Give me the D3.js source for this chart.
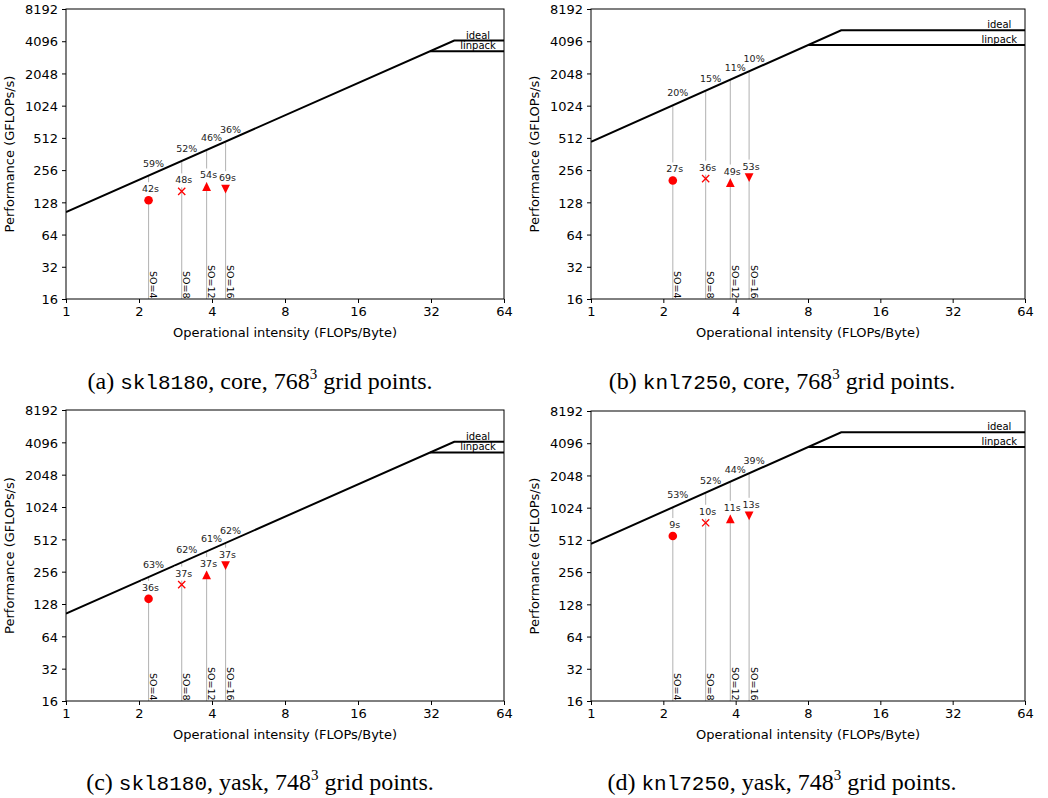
<!DOCTYPE html>
<html>
<head>
<meta charset="utf-8">
<script src="https://cdn.jsdelivr.net/npm/d3@7.9.0/dist/d3.min.js"></script>
<style>
  body { margin: 0; background: #fff; }
  svg { display: block; }
  .tick text { font-family: "DejaVu Sans", sans-serif; font-size: 13px; fill: #000; }
  .tick line { stroke: #000; }
</style>
</head>
<body>
<svg id="chart" width="1048" height="798"></svg>
<script>
// shared x positions of the four stencil orders
const intensity = [2.19, 3.0, 3.8, 4.55];
const soLabels = ["SO=4", "SO=8", "SO=12", "SO=16"];
const markerKinds = ["circle", "cross", "triUp", "triDown"];
const xTicks = [1, 2, 4, 8, 16, 32, 64];
const yTicks = [16, 32, 64, 128, 256, 512, 1024, 2048, 4096, 8192];

// per panel
const panelIds = ["a", "b", "c", "d"];
const machines = ["skl8180", "knl7250", "skl8180", "knl7250"];
const codes = ["core", "core", "yask", "yask"];
const gridSizes = ["768", "768", "748", "748"];
const bandwidth = [104, 471, 104, 471];
const peakIdeal = [4150, 5180, 4150, 5180];
const peakLinpack = [3300, 3780, 3300, 3780];

const perfA = [134, 162, 180, 170];
const perfB = [205, 213, 196, 218];
const perfC = [143, 194, 239, 291];
const perfD = [556, 740, 805, 860];

const pctA = ["59%", "52%", "46%", "36%"];
const pctB = ["20%", "15%", "11%", "10%"];
const pctC = ["63%", "62%", "61%", "62%"];
const pctD = ["53%", "52%", "44%", "39%"];

const timeA = ["42s", "48s", "54s", "69s"];
const timeB = ["27s", "36s", "49s", "53s"];
const timeC = ["36s", "37s", "37s", "37s"];
const timeD = ["9s", "10s", "11s", "13s"];

const perfs = [perfA, perfB, perfC, perfD];
const pcts = [pctA, pctB, pctC, pctD];
const times = [timeA, timeB, timeC, timeD];

// plot boxes (left, right, top, bottom) and caption centres
const boxes = [
  [66, 504, 9, 299],
  [591, 1025, 9, 299],
  [66, 504, 410, 701],
  [591, 1025, 411, 701]
];
const captionPos = [[260, 389], [782, 389], [260, 790], [782, 790]];

const svg = d3.select("#chart");
const annFont = "DejaVu Sans, sans-serif";

function markerPath(kind, a) {
  if (kind === "triUp") return `M0,${-a}L${a},${a}L${-a},${a}Z`;
  if (kind === "triDown") return `M0,${a}L${a},${-a}L${-a},${-a}Z`;
  if (kind === "cross") return `M${-a},${-a}L${a},${a}M${-a},${a}L${a},${-a}`;
  return null;
}

panelIds.forEach((id, p) => {
  const [L, R, T, B] = boxes[p];
  const x = d3.scaleLog().base(2).domain([1, 64]).range([L, R]);
  const y = d3.scaleLog().base(2).domain([16, 8192]).range([B, T]);
  const g = svg.append("g");
  const bw = bandwidth[p];

  g.append("clipPath").attr("id", "clip" + id)
    .append("rect").attr("x", L).attr("y", T).attr("width", R - L).attr("height", B - T);

  const plot = g.append("g").attr("clip-path", `url(#clip${id})`);

  // gray drop lines from the bottom up to the roof
  intensity.forEach((oi) => {
    plot.append("line")
      .attr("x1", x(oi)).attr("x2", x(oi))
      .attr("y1", y(16)).attr("y2", y(bw * oi))
      .attr("stroke", "#b8b8b8").attr("stroke-width", 1.1);
  });

  // rooflines
  const line = d3.line().x((d) => x(d[0])).y((d) => y(d[1]));
  const ideal = [[1, bw], [peakIdeal[p] / bw, peakIdeal[p]], [64, peakIdeal[p]]];
  const linpack = [[peakLinpack[p] / bw, peakLinpack[p]], [64, peakLinpack[p]]];
  [ideal, linpack].forEach((pts) => {
    plot.append("path").attr("d", line(pts))
      .attr("fill", "none").attr("stroke", "#000").attr("stroke-width", 2);
  });

  g.append("text").attr("x", x(50)).attr("y", y(peakIdeal[p]) - 2)
    .attr("text-anchor", "middle").attr("font-family", annFont).attr("font-size", 10)
    .text("ideal");
  g.append("text").attr("x", x(50)).attr("y", y(peakLinpack[p]) - 2)
    .attr("text-anchor", "middle").attr("font-family", annFont).attr("font-size", 10)
    .text("linpack");

  // SO labels
  intensity.forEach((oi, i) => {
    g.append("text")
      .attr("transform", `translate(${x(oi) + 1.5},${y(16) - 0.5}) rotate(90)`)
      .attr("text-anchor", "end").attr("font-family", annFont).attr("font-size", 9.5)
      .text(soLabels[i]);
  });

  // percentage of roof
  intensity.forEach((oi, i) => {
    g.append("text").attr("x", x(oi) + 5).attr("y", y(bw * oi) - 9)
      .attr("text-anchor", "middle").attr("font-family", annFont).attr("font-size", 9.5)
      .attr("fill", "#222")
      .text(pcts[p][i]);
  });

  // runtime labels with white box
  intensity.forEach((oi, i) => {
    const t = g.append("text").attr("x", x(oi) + 2).attr("y", y(perfs[p][i]) - 8)
      .attr("text-anchor", "middle").attr("font-family", annFont).attr("font-size", 9.5)
      .attr("fill", "#222")
      .text(times[p][i]);
    const bb = t.node().getBBox();
    g.insert("rect", () => t.node())
      .attr("x", bb.x - 1).attr("y", bb.y - 1)
      .attr("width", bb.width + 2).attr("height", bb.height + 3)
      .attr("fill", "#fff");
  });

  // markers
  intensity.forEach((oi, i) => {
    const kind = markerKinds[i];
    const cx = x(oi), cy = y(perfs[p][i]);
    if (kind === "circle") {
      g.append("circle").attr("cx", cx).attr("cy", cy).attr("r", 4.3).attr("fill", "#ff0000");
    } else if (kind === "cross") {
      g.append("path").attr("transform", `translate(${cx},${cy})`)
        .attr("d", markerPath(kind, 3.6))
        .attr("fill", "none").attr("stroke", "#ff0000").attr("stroke-width", 1.3);
    } else {
      g.append("path").attr("transform", `translate(${cx},${cy})`)
        .attr("d", markerPath(kind, 4.4)).attr("fill", "#ff0000");
    }
  });

  // axes
  const xAxis = g.append("g").attr("transform", `translate(0,${B})`)
    .call(d3.axisBottom(x).tickValues(xTicks).tickFormat(d3.format("d")).tickSize(4).tickPadding(4));
  xAxis.select(".domain").remove();
  const yAxis = g.append("g").attr("transform", `translate(${L},0)`)
    .call(d3.axisLeft(y).tickValues(yTicks).tickFormat(d3.format("d")).tickSize(4).tickPadding(4));
  yAxis.select(".domain").remove();
  yAxis.selectAll(".tick text").attr("dy", "0.36em");

  g.append("rect").attr("x", L).attr("y", T).attr("width", R - L).attr("height", B - T)
    .attr("fill", "none").attr("stroke", "#000").attr("stroke-width", 1);

  g.append("text").attr("x", (L + R) / 2).attr("y", B + 38)
    .attr("text-anchor", "middle").attr("font-family", annFont).attr("font-size", 13)
    .text("Operational intensity (FLOPs/Byte)");
  g.append("text")
    .attr("transform", `translate(${L - 52},${(T + B) / 2}) rotate(-90)`)
    .attr("text-anchor", "middle").attr("font-family", annFont).attr("font-size", 13)
    .text("Performance (GFLOPs/s)");

  // caption
  const [cx, cy] = captionPos[p];
  const cap = svg.append("text").attr("x", cx).attr("y", cy)
    .attr("text-anchor", "middle").attr("font-family", "Liberation Serif, serif")
    .attr("font-size", 24);
  cap.append("tspan").text(`(${id}) `);
  cap.append("tspan").attr("font-family", "Liberation Mono, monospace").attr("font-size", 21)
    .text(machines[p]);
  cap.append("tspan").text(`, ${codes[p]}, ${gridSizes[p]}`);
  cap.append("tspan").attr("font-size", 15).attr("dy", -10).text("3");
  cap.append("tspan").attr("dy", 10).text(" grid points.");
});
</script>
</body>
</html>
